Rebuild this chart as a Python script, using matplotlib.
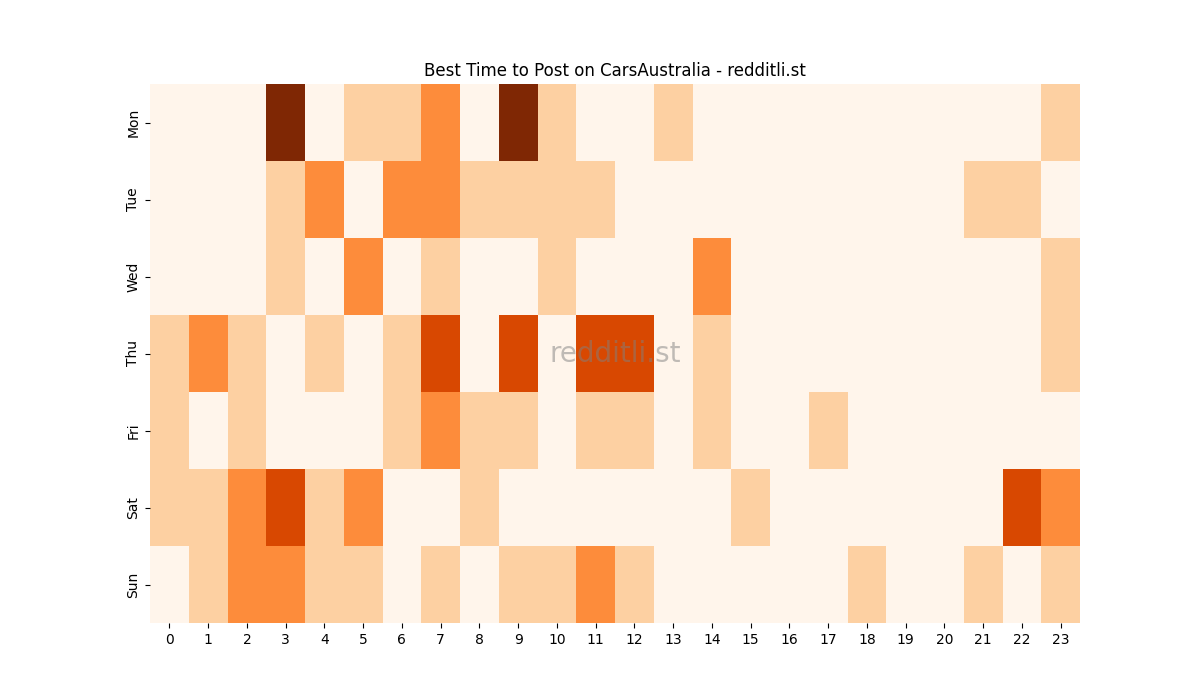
import matplotlib
matplotlib.use("Agg")
import matplotlib.pyplot as plt
import seaborn as sns
import numpy as np

days = ["Mon", "Tue", "Wed", "Thu", "Fri", "Sat", "Sun"]
hours = list(range(24))

mon = [0, 0, 0, 4, 0, 1, 1, 2, 0, 4, 1, 0, 0, 1, 0, 0, 0, 0, 0, 0, 0, 0, 0, 1]
tue = [0, 0, 0, 1, 2, 0, 2, 2, 1, 1, 1, 1, 0, 0, 0, 0, 0, 0, 0, 0, 0, 1, 1, 0]
wed = [0, 0, 0, 1, 0, 2, 0, 1, 0, 0, 1, 0, 0, 0, 2, 0, 0, 0, 0, 0, 0, 0, 0, 1]
thu = [1, 2, 1, 0, 1, 0, 1, 3, 0, 3, 0, 3, 3, 0, 1, 0, 0, 0, 0, 0, 0, 0, 0, 1]
fri = [1, 0, 1, 0, 0, 0, 1, 2, 1, 1, 0, 1, 1, 0, 1, 0, 0, 1, 0, 0, 0, 0, 0, 0]
sat = [1, 1, 2, 3, 1, 2, 0, 0, 1, 0, 0, 0, 0, 0, 0, 1, 0, 0, 0, 0, 0, 0, 3, 2]
sun = [0, 1, 2, 2, 1, 1, 0, 1, 0, 1, 1, 2, 1, 0, 0, 0, 0, 0, 1, 0, 0, 1, 0, 1]

counts = np.array([mon, tue, wed, thu, fri, sat, sun])

fig = plt.figure(figsize=(12, 7), dpi=100)
ax = fig.add_subplot(111)
sns.heatmap(counts, cmap="Oranges", cbar=False, xticklabels=hours,
            yticklabels=days, ax=ax)
ax.set_title("Best Time to Post on CarsAustralia - redditli.st")
ax.text(0.5, 0.5, "redditli.st", transform=ax.transAxes, fontsize=20,
        color="gray", alpha=0.5, ha="center", va="center")
plt.savefig("out.png")
plt.close()
